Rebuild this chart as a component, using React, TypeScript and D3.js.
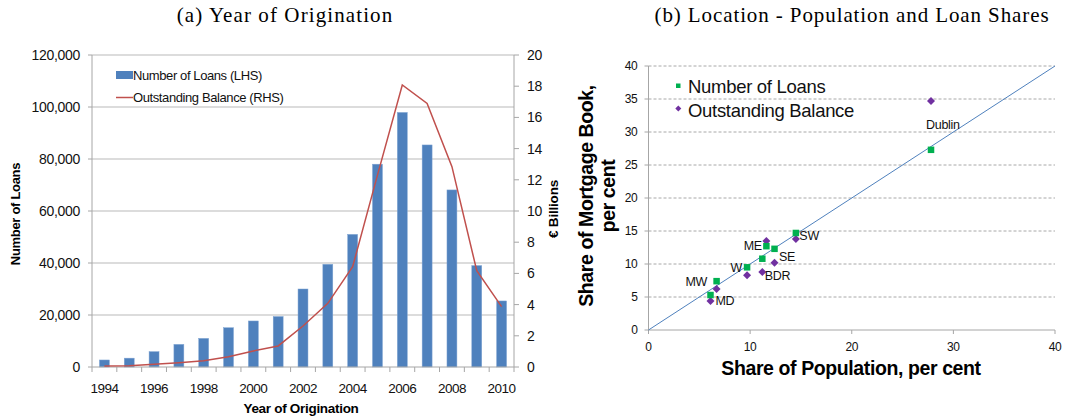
import React from 'react';
import * as d3 from 'd3';

// ---------- Panel (a) data ----------
const years = ['1994','1995','1996','1997','1998','1999','2000','2001','2002','2003','2004','2005','2006','2007','2008','2009','2010'];
const loanCounts = [2700, 3400, 5900, 8700, 11000, 15100, 17700, 19400, 30000, 39500, 51000, 78000, 97900, 85400, 68100, 39000, 25400];
const balances = [0.06, 0.08, 0.17, 0.28, 0.4, 0.66, 1.03, 1.35, 2.63, 4.08, 6.43, 12.3, 18.08, 16.9, 12.84, 6.17, 3.87];
const leftTicks = [0, 20000, 40000, 60000, 80000, 100000, 120000];
const rightTicks = [0, 2, 4, 6, 8, 10, 12, 14, 16, 18, 20];

// ---------- Panel (b) data ----------
const regions = ['Dublin', 'SW', 'ME', 'SE', 'BDR', 'W', 'MW', 'MD'];
const populationShare = [27.8, 14.5, 11.6, 12.4, 11.2, 9.7, 6.7, 6.1];
const loansShare = [27.3, 14.7, 12.7, 12.3, 10.8, 9.5, 7.4, 5.3];
const balanceShare = [34.7, 13.8, 13.5, 10.2, 8.8, 8.3, 6.2, 4.4];
const scatterTicks = [0, 5, 10, 15, 20, 25, 30, 35, 40];
const scatterXTicks = [0, 10, 20, 30, 40];

// label placement (pixel offsets from the loans point)
const labelOffsets: [number, number, string][] = [
  [-5, -21, 'start'],
  [3.5, 7.5, 'start'],
  [-4.5, 4, 'end'],
  [4.5, 12, 'start'],
  [2.5, 21.3, 'start'],
  [-5, 4.7, 'end'],
  [-9.5, 5, 'end'],
  [5, 10, 'start'],
];

const SANS = 'Liberation Sans, Arial, Helvetica, sans-serif';
const SERIF = 'Liberation Serif, Times New Roman, serif';

export default function App() {
  // Panel (a)
  const x = d3.scaleBand<string>().domain(years).range([92, 514]).paddingInner(0.6).paddingOuter(0.3);
  const step = x.step();
  const yL = d3.scaleLinear().domain([0, 120000]).range([367, 55]);
  const yR = d3.scaleLinear().domain([0, 20]).range([367, 55]);
  const line = d3.line<number>()
    .x((_, i) => (x(years[i]) as number) + x.bandwidth() / 2)
    .y(d => yR(d));
  const fmt = d3.format(',');

  // Panel (b)
  const sx = d3.scaleLinear().domain([0, 40]).range([648.5, 1055]);
  const sy = d3.scaleLinear().domain([0, 40]).range([330, 66]);

  const diamond = (cx: number, cy: number, r: number) =>
    `M${cx},${cy - r}L${cx + r},${cy}L${cx},${cy + r}L${cx - r},${cy}Z`;

  return (
    <svg width={1078} height={419} style={{ position: 'absolute', left: 0, top: 0, background: '#fff' }}>
      {/* Titles */}
      <text x={285} y={22} textAnchor="middle" fontFamily={SERIF} fontSize={21} letterSpacing={1.1} fill="#000">(a) Year of Origination</text>
      <text x={852} y={22} textAnchor="middle" fontFamily={SERIF} fontSize={21} letterSpacing={0.9} fill="#000">(b) Location - Population and Loan Shares</text>

      {/* ---------- Panel (a) ---------- */}
      {leftTicks.map(t => (
        <g key={'lg' + t}>
          {t > 0 && <line x1={92} x2={514} y1={yL(t)} y2={yL(t)} stroke="#b9b9b9" strokeWidth={1} />}
          <line x1={88} x2={92} y1={yL(t)} y2={yL(t)} stroke="#a6a6a6" />
          <text x={80} y={yL(t)} dy="0.35em" textAnchor="end" fontFamily={SANS} fontSize={14} letterSpacing={-0.3} fill="#111">{fmt(t)}</text>
        </g>
      ))}
      {rightTicks.map(t => (
        <g key={'rt' + t}>
          <line x1={514} x2={519} y1={yR(t)} y2={yR(t)} stroke="#a6a6a6" />
          <text x={527} y={yR(t)} dy="0.35em" textAnchor="start" fontFamily={SANS} fontSize={14} letterSpacing={-0.3} fill="#111">{t}</text>
        </g>
      ))}
      {/* bars */}
      {loanCounts.map((v, i) => (
        <rect key={'b' + i} x={x(years[i])} y={yL(v)} width={x.bandwidth()} height={yL(0) - yL(v)} fill="#4f81bd" stroke="#7ea3d2" strokeWidth={0.5} />
      ))}
      {/* axes */}
      <line x1={92} x2={92} y1={55} y2={367} stroke="#a6a6a6" />
      <line x1={514} x2={514} y1={55} y2={367} stroke="#a6a6a6" />
      <line x1={92} x2={514} y1={367} y2={367} stroke="#a6a6a6" />
      {years.map((yr, i) => (
        <line key={'xt' + i} x1={92 + i * step} x2={92 + i * step} y1={367} y2={372} stroke="#a6a6a6" />
      ))}
      <line x1={514} x2={514} y1={367} y2={372} stroke="#a6a6a6" />
      {years.map((yr, i) => i % 2 === 0 && (
        <text key={'xl' + i} x={(x(yr) as number) + x.bandwidth() / 2} y={393} textAnchor="middle" fontFamily={SANS} fontSize={13.5} letterSpacing={-0.5} fill="#111">{yr}</text>
      ))}
      {/* line */}
      <path d={line(balances) || ''} fill="none" stroke="#c0504d" strokeWidth={1.5} />
      {/* axis titles */}
      <text transform="translate(20,214) rotate(-90)" textAnchor="middle" fontFamily={SANS} fontWeight="bold" fontSize={13} letterSpacing={-0.3} fill="#000">Number of Loans</text>
      <text transform="translate(558,209) rotate(-90)" textAnchor="middle" fontFamily={SANS} fontWeight="bold" fontSize={13.5} letterSpacing={-0.2} fill="#000">€ Billions</text>
      <text x={301} y={413} textAnchor="middle" fontFamily={SANS} fontWeight="bold" fontSize={13.5} letterSpacing={-0.3} fill="#000">Year of Origination</text>
      {/* legend */}
      <rect x={116} y={71} width={17} height={8} fill="#4f81bd" />
      <text x={133} y={75} dy="0.35em" fontFamily={SANS} fontSize={13} letterSpacing={-0.4} fill="#111">Number of Loans (LHS)</text>
      <line x1={116} x2={133} y1={97.5} y2={97.5} stroke="#c0504d" strokeWidth={1.5} />
      <text x={133} y={97.5} dy="0.35em" fontFamily={SANS} fontSize={13} letterSpacing={-0.4} fill="#111">Outstanding Balance (RHS)</text>

      {/* ---------- Panel (b) ---------- */}
      {scatterTicks.map(t => (
        <g key={'sg' + t}>
          {t > 0 && <line x1={sx(0)} x2={sx(40)} y1={sy(t)} y2={sy(t)} stroke="#a8a8a8" strokeDasharray="3,2" />}
          <line x1={sx(0) - 4} x2={sx(0)} y1={sy(t)} y2={sy(t)} stroke="#a6a6a6" />
          <text x={sx(0) - 11} y={sy(t)} dy="0.35em" textAnchor="end" fontFamily={SANS} fontSize={12} letterSpacing={-0.3} fill="#111">{t}</text>
        </g>
      ))}
      {scatterXTicks.map(t => (
        <g key={'sx' + t}>
          <line x1={sx(t)} x2={sx(t)} y1={sy(0)} y2={sy(0) + 4} stroke="#a6a6a6" />
          <text x={sx(t)} y={sy(0) + 21} textAnchor="middle" fontFamily={SANS} fontSize={12} letterSpacing={-0.3} fill="#111">{t}</text>
        </g>
      ))}
      <line x1={sx(0)} x2={sx(0)} y1={sy(0)} y2={sy(40)} stroke="#a6a6a6" />
      <line x1={sx(0)} x2={sx(40)} y1={sy(0)} y2={sy(0)} stroke="#a6a6a6" />
      {/* 45-degree line */}
      <line x1={sx(0)} y1={sy(0)} x2={sx(40)} y2={sy(40)} stroke="#4f81bd" strokeWidth={1} />
      {/* points */}
      {regions.map((r, i) => (
        <path key={'d' + r} d={diamond(sx(populationShare[i]), sy(balanceShare[i]), 4)} fill="#7030a0" />
      ))}
      {regions.map((r, i) => (
        <rect key={'s' + r} x={sx(populationShare[i]) - 3.25} y={sy(loansShare[i]) - 3.25} width={6.5} height={6.5} fill="#00b050" />
      ))}
      {regions.map((r, i) => (
        <text key={'l' + r} x={sx(populationShare[i]) + labelOffsets[i][0]} y={sy(loansShare[i]) + labelOffsets[i][1]}
          textAnchor={labelOffsets[i][2] as any} fontFamily={SANS} fontSize={12.5} letterSpacing={-0.3} fill="#111">{r}</text>
      ))}
      {/* legend */}
      <rect x={676} y={83.5} width={4.5} height={4.5} fill="#00b050" />
      <text x={688} y={93.3} fontFamily={SANS} fontSize={18.5} letterSpacing={-0.3} fill="#111">Number of Loans</text>
      <path d={diamond(678.3, 108.5, 3)} fill="#7030a0" />
      <text x={688} y={116.5} fontFamily={SANS} fontSize={18.5} letterSpacing={-0.3} fill="#111">Outstanding Balance</text>
      {/* axis titles */}
      <text x={851} y={375} textAnchor="middle" fontFamily={SANS} fontWeight="bold" fontSize={19.5} letterSpacing={-0.4} fill="#000">Share of Population, per cent</text>
      <text transform="translate(593,196) rotate(-90)" textAnchor="middle" fontFamily={SANS} fontWeight="bold" fontSize={19.5} letterSpacing={-0.4} fill="#000">Share of Mortgage Book,</text>
      <text transform="translate(615,196) rotate(-90)" textAnchor="middle" fontFamily={SANS} fontWeight="bold" fontSize={19.5} letterSpacing={-0.4} fill="#000">per cent</text>
    </svg>
  );
}
